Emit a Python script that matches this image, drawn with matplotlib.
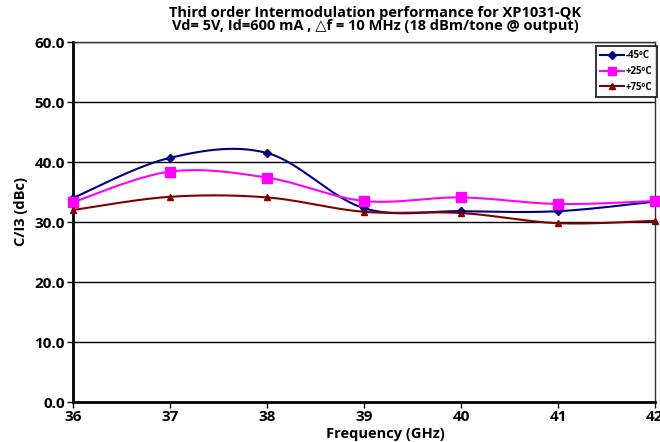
import numpy as np
import matplotlib
matplotlib.use("Agg")
import matplotlib.pyplot as plt
from matplotlib.lines import Line2D

freq = [36, 37, 38, 39, 40, 41, 42]
c_im3_m45 = [34.0, 40.7, 41.5, 32.3, 31.8, 31.8, 33.4]
c_im3_p25 = [33.3, 38.4, 37.4, 33.5, 34.1, 33.0, 33.5]
c_im3_p75 = [32.0, 34.2, 34.1, 31.7, 31.5, 29.8, 30.2]
series_labels = ["-45\u00baC", "+25\u00baC", "+75\u00baC"]
y_ticks = [0, 10, 20, 30, 40, 50, 60]

plt.rcParams['font.family'] = ['Open Sans', 'DejaVu Sans']
plt.rcParams['font.weight'] = 'bold'


def smooth_curve(x, y, n=40):
    """Catmull-Rom style smoothing through the points (spreadsheet smoothed line)."""
    x = np.asarray(x, float)
    y = np.asarray(y, float)
    px = np.concatenate([[x[0]], x, [x[-1]]])
    py = np.concatenate([[y[0]], y, [y[-1]]])
    xs, ys = [], []
    t = np.linspace(0, 1, n)
    for i in range(1, len(px) - 2):
        p0, p1, p2, p3 = (np.array([px[j], py[j]]) for j in (i - 1, i, i + 1, i + 2))
        c1 = p1 + (p2 - p0) / 6.0
        c2 = p2 - (p3 - p1) / 6.0
        b = ((1 - t) ** 3)[:, None] * p1 + (3 * (1 - t) ** 2 * t)[:, None] * c1 \
            + (3 * (1 - t) * t ** 2)[:, None] * c2 + (t ** 3)[:, None] * p2
        xs.append(b[:, 0])
        ys.append(b[:, 1])
    return np.concatenate(xs), np.concatenate(ys)


fig = plt.figure(figsize=(6.6, 4.42), dpi=100)
ax = fig.add_axes([73 / 660, 1 - 402 / 442, 582 / 660, 360 / 442])

styles = [
    (c_im3_m45, "#000080", "D", 4.5),
    (c_im3_p25, "#FF00FF", "s", 6.5),
    (c_im3_p75, "#800000", "^", 5),
]
handles = []
for (vals, col, mk, ms), lab in zip(styles, series_labels):
    sx, sy = smooth_curve(freq, vals)
    ax.plot(sx, sy, color=col, lw=1.5, zorder=3, clip_on=False)
    ax.plot(freq, vals, ls="none", marker=mk, color=col, ms=ms, zorder=4, clip_on=False)
    handles.append(Line2D([], [], color=col, lw=1.5, marker=mk, ms=ms * 0.9, label=lab))

ax.set_xlim(36, 42)
ax.set_ylim(0, 60)
ax.set_xticks(freq)
ax.set_xticklabels([str(f) for f in freq], fontsize=11, fontweight="bold")
ax.set_yticks(y_ticks)
ax.set_yticklabels([f"{v:.1f}" for v in y_ticks], fontsize=11, fontweight="bold")
ax.tick_params(axis="both", direction="out", length=4, width=1, color="black", pad=2)
ax.yaxis.grid(True, color="black", lw=1)
ax.set_axisbelow(True)
for s in ["left", "bottom"]:
    ax.spines[s].set_linewidth(2)
for s in ["top", "right"]:
    ax.spines[s].set_linewidth(1)
    ax.spines[s].set_color("#333333")

ax.set_xlabel("Frequency (GHz)", fontsize=10.5, fontweight="bold")
ax.xaxis.set_label_coords(0.536, -0.07)
ax.set_ylabel("C/I3 (dBc)", fontsize=10.5, fontweight="bold")
ax.yaxis.set_label_coords(-0.078, 0.53)

fig.text(0.568, 0.986, "Third order Intermodulation performance for XP1031-QK\n"
         "Vd= 5V, Id=600 mA , \u25b3f = 10 MHz (18 dBm/tone @ output)",
         ha="center", va="top", fontsize=10.5, fontweight="bold", linespacing=0.9,
         family=["Open Sans", "DejaVu Sans"])

leg = ax.legend(handles=handles, loc="upper right", bbox_to_anchor=(1.006, 0.995),
                fontsize=7, frameon=True, fancybox=False, edgecolor="black",
                handlelength=2.4, handletextpad=0.2, borderpad=0.45, labelspacing=0.5,
                borderaxespad=0.2)
leg.get_frame().set_linewidth(1.4)
for t in leg.get_texts():
    t.set_fontweight("bold")

fig.savefig("out.png", dpi=100)
